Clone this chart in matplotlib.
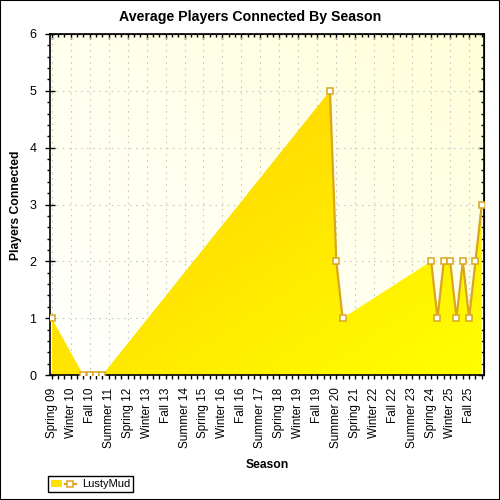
import numpy as np
import matplotlib
matplotlib.use("Agg")
import matplotlib.pyplot as plt
from matplotlib.colors import LinearSegmentedColormap
from matplotlib.lines import Line2D
from matplotlib.patches import Patch, Polygon, Rectangle
from matplotlib.legend_handler import HandlerTuple
from matplotlib.ticker import MultipleLocator

plt.rcParams['font.family'] = ['Liberation Sans', 'DejaVu Sans']

# season labels on the x axis (every third season)
tick_labels = ["Spring 09", "Winter 10", "Fall 10", "Summer 11", "Spring 12",
               "Winter 13", "Fall 13", "Summer 14", "Spring 15", "Winter 16",
               "Fall 16", "Summer 17", "Spring 18", "Winter 19", "Fall 19",
               "Summer 20", "Spring 21", "Winter 22", "Fall 22", "Summer 23",
               "Spring 24", "Winter 25", "Fall 25"]

# season index of each sample and average players connected
season_idx = [0, 5, 6, 7, 8, 44, 45, 46, 60, 61, 62, 63, 64, 65, 66, 67, 68]
players = [1, 0, 0, 0, 0, 5, 2, 1, 2, 1, 2, 2, 1, 2, 1, 2, 3]
series_name = "LustyMud"

line_col = "#DAA520"

fig = plt.figure(figsize=(5, 5), dpi=100)
ax = fig.add_axes([49.5 / 500, 125 / 500, 434.8 / 500, 341 / 500])

x = np.array(season_idx, dtype=float)
y = np.array(players, dtype=float)

# fond du graphique : degrade blanc -> jaune pale
gu, gv = np.meshgrid(np.linspace(0, 1, 200), np.linspace(1, 0, 200))
bg_cmap = LinearSegmentedColormap.from_list("bg", ["#FFFFFF", "#FFFFDA"])
ax.imshow((gu + gv) / 2, cmap=bg_cmap, extent=[0, 1, 0, 1], transform=ax.transAxes,
          aspect="auto", zorder=0, vmin=0, vmax=1, interpolation="bilinear")

# aire avec degrade diagonal (or -> jaune)
verts = np.column_stack([np.r_[x, x[::-1]], np.r_[y, np.zeros_like(y)]])
poly = Polygon(verts, closed=True, facecolor="none", edgecolor="none")
ax.add_patch(poly)
au, av = np.meshgrid(np.linspace(0, 1, 300), np.linspace(0, 1, 300))
area_cmap = LinearSegmentedColormap.from_list("area", ["#FFCC00", "#FFFF00"])
im = ax.imshow((au + av) / 2, cmap=area_cmap, extent=[x.min(), x.max(), 0, y.max()],
               aspect="auto", zorder=1, vmin=0, vmax=1, origin="upper",
               interpolation="bilinear")
im.set_clip_path(poly)

# la ligne ne relie que des saisons consecutives
lx, ly = [], []
for i in range(len(x)):
    if i > 0 and x[i] - x[i - 1] > 1:
        lx.append(np.nan)
        ly.append(np.nan)
    lx.append(x[i])
    ly.append(y[i])
ax.plot(lx, ly, color=line_col, lw=1.6, zorder=2)
ax.plot(x, y, ls="none", marker="s", ms=5, mfc="white", mec=line_col, mew=1.1, zorder=3)

ax.set_xlim(-0.35, 68.4)
ax.set_ylim(0, 6)

ax.set_xticks(np.arange(0, 3 * len(tick_labels), 3))
ax.set_xticklabels(tick_labels, rotation=90, fontsize=8.5)
ax.xaxis.set_minor_locator(MultipleLocator(1))
ax.yaxis.set_major_locator(MultipleLocator(1))
ax.yaxis.set_minor_locator(MultipleLocator(0.2))
ax.tick_params(axis="x", which="major", direction="inout", length=6, width=1, pad=6)
ax.tick_params(axis="x", which="minor", direction="out", length=3, width=1)
ax.tick_params(axis="y", which="major", direction="inout", length=7, width=1, pad=6,
               labelsize=9)
ax.tick_params(axis="y", which="minor", direction="out", length=2.5, width=1)

ax.grid(True, which="major", color="#C8C8C8", lw=0.8, ls=(0, (1.5, 4)))
ax.set_axisbelow(True)
for s in ax.spines.values():
    s.set_linewidth(1.2)

top = ax.secondary_xaxis("top")
top.set_xticks(ax.get_xticks())
top.set_xticklabels([])
top.xaxis.set_minor_locator(MultipleLocator(1))
top.tick_params(which="major", direction="in", length=3.5, width=1)
top.tick_params(which="minor", direction="in", length=2, width=1)
right = ax.secondary_yaxis("right")
right.yaxis.set_major_locator(MultipleLocator(1))
right.yaxis.set_minor_locator(MultipleLocator(0.2))
right.set_yticklabels([])
right.tick_params(which="major", direction="in", length=4, width=1)
right.tick_params(which="minor", direction="in", length=2, width=1)

fig.text(0.5, 1 - 17 / 500, "Average Players Connected By Season", ha="center",
         va="center", fontsize=10.2, fontweight="bold")
fig.text(267 / 500, 1 - 465 / 500, "Season", ha="center", va="center",
         fontsize=8.7, fontweight="bold")
fig.text(16 / 500, 1 - 205 / 500, "Players Connected", ha="center", va="center",
         rotation=90, fontsize=8.7, fontweight="bold")

handle = (Patch(facecolor="#FFE000", edgecolor="none"),
          Line2D([], [], color=line_col, lw=1.6, marker="s", ms=5, mfc="white",
                 mec=line_col, mew=1.1))
leg = fig.legend([handle], [series_name], handler_map={tuple: HandlerTuple(ndivide=None)},
                 loc="lower left", bbox_to_anchor=(48 / 500, 1 - 492 / 500),
                 fontsize=8, frameon=True, fancybox=False, edgecolor="black",
                 framealpha=1, borderpad=0.25, handlelength=2.25, handleheight=0.6,
                 handletextpad=0.6, borderaxespad=0)
leg.get_frame().set_linewidth(1)

fig.patches.append(Rectangle((0, 0), 1, 1, transform=fig.transFigure, fill=False,
                             edgecolor="black", lw=1.5))

fig.savefig("out.png", dpi=100)
